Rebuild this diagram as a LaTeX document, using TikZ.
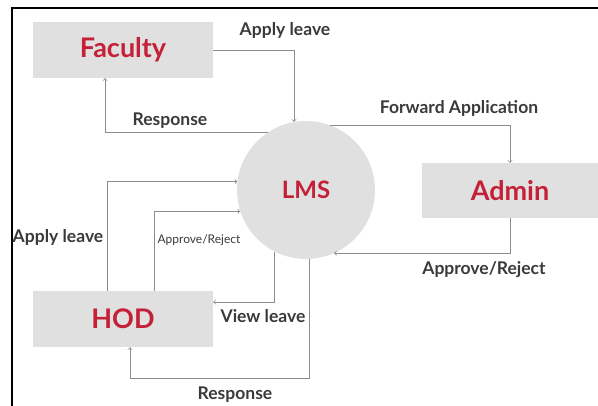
\documentclass[tikz,border=0pt]{standalone}
\usepackage{fontspec}
\setmainfont{Lato}
\usetikzlibrary{positioning}
\usetikzlibrary{arrows}
\definecolor{boxgray}{HTML}{E0E0E0}
\definecolor{boxred}{HTML}{C42038}
\definecolor{linegray}{HTML}{8C8C8C}
\definecolor{labelgray}{HTML}{3A3A3A}
\tikzset{x=1pt, y=-1pt,     % One unit is one pixel, y grows downwards
    entity/.style={          % Faculty, Admin and HOD boxes
        rectangle,
        fill=boxgray,
        text=boxred,
        font=\fontsize{27}{31}\selectfont\bfseries},
    process/.style={         % The LMS bubble
        circle,
        fill=boxgray,
        text=boxred,
        minimum size=138,
        font=\fontsize{24}{28}\selectfont\bfseries},
    flow/.style={            % Data flows between the boxes
        draw=linegray,
        line width=0.8pt,
        ->,>=to},
    flowlabel/.style={
        text=labelgray,
        font=\fontsize{17.5}{20}\selectfont\bfseries}}

\begin{document}
\begin{tikzpicture}
        \useasboundingbox (0,0) rectangle (598,406);
        \draw[line width=2pt] (598,8) -- (12,8) -- (12,406);

        \node[process] (lms) at (306,190) {LMS};
        \node[entity, minimum width=180, minimum height=56] (faculty) at (123,50) {Faculty};
        \node[entity, minimum width=176, minimum height=55] (admin) at (510,190.5) {Admin};
        \node[entity, minimum width=180, minimum height=56] (hod) at (123,319) {HOD};

        \draw[flow] (faculty.east) -| (lms.100);
        \draw[flow] (lms.123) -| ([xshift=-18pt]faculty.south);
        \draw[flow] (lms.70) -| (admin.north);
        \draw[flow] (admin.south) |- (lms.-66);
        \draw[flow] ([xshift=-16pt]hod.north) |- (lms.173);
        \draw[flow] ([xshift=31pt]hod.north) |- (lms.198);
        \draw[flow] (lms.-117) |- ([yshift=17pt]hod.east);
        \draw[flow] (lms.-87) |- ([xshift=7pt, yshift=-31pt]hod.south) -- ([xshift=7pt]hod.south);

        \node[flowlabel] (apply1) at (285,30) {Apply leave};
        \node[flowlabel] (resp1) at (170,121) {Response};
        \node[flowlabel] (fwd) at (459,108) {Forward Application};
        \node[flowlabel] (appr1) at (484,270) {Approve/Reject};
        \node[flowlabel] (apply2) at (58,237) {Apply leave};
        \node[flowlabel, font=\fontsize{12}{14}\selectfont] (appr2) at (199,240) {Approve/Reject};
        \node[flowlabel] (view) at (263,316) {View leave};
        \node[flowlabel] (resp2) at (235,395) {Response};
    \end{tikzpicture}
\end{document}
